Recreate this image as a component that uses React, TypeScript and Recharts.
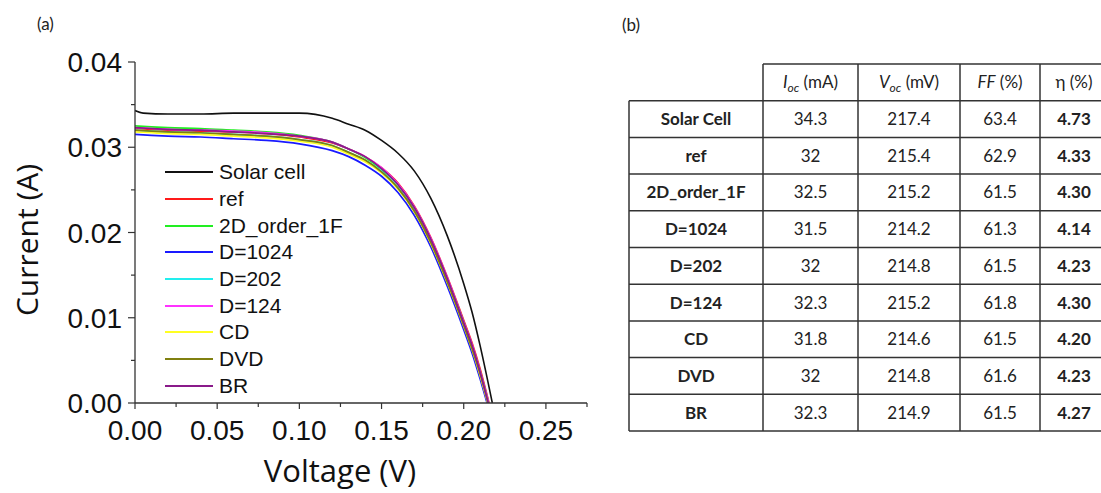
import React from 'react';
import { LineChart, Line, XAxis, YAxis, Legend } from 'recharts';

// ---------- chart data ----------
const seriesNames = ['Solar cell', 'ref', '2D_order_1F', 'D=1024', 'D=202', 'D=124', 'CD', 'DVD', 'BR'];
const seriesColors = ['#111111', '#ff1a1a', '#22ee22', '#1a1aff', '#22eeee', '#ff33ff', '#ffff22', '#808010', '#8a1a8a'];

const solarVoltage = [0, 0.005, 0.02, 0.04, 0.06, 0.08, 0.1, 0.12, 0.13, 0.14, 0.15, 0.16, 0.17, 0.18, 0.19, 0.2, 0.205, 0.21, 0.2174];
const solarCurrent = [0.0343, 0.034, 0.0339, 0.0339, 0.034, 0.034, 0.034, 0.0334, 0.0327, 0.032, 0.0308, 0.0293, 0.0272, 0.024, 0.0196, 0.014, 0.0107, 0.0067, 0];

const sampleVoltage = [0, 0.01, 0.02, 0.04, 0.06, 0.08, 0.1, 0.12, 0.13, 0.14, 0.15, 0.16, 0.17, 0.18, 0.19, 0.2, 0.205, 0.21];
const refCurrent = [0.0322, 0.0321, 0.032, 0.0319, 0.0318, 0.0316, 0.0312, 0.0305, 0.0298, 0.0289, 0.0276, 0.0258, 0.0231, 0.0194, 0.0148, 0.0097, 0.0071, 0.004];
const order1FCurrent = [0.0325, 0.0324, 0.0323, 0.0322, 0.032, 0.0318, 0.0314, 0.0306, 0.0298, 0.0288, 0.0274, 0.0256, 0.0229, 0.0192, 0.0146, 0.0095, 0.0068, 0.0037];
const d1024Current = [0.0315, 0.0314, 0.0313, 0.0312, 0.031, 0.0308, 0.0304, 0.0296, 0.0289, 0.0279, 0.0266, 0.0247, 0.022, 0.0183, 0.0137, 0.0086, 0.0059, 0.0028];
const d202Current = [0.032, 0.0319, 0.0318, 0.0317, 0.0315, 0.0313, 0.0309, 0.0302, 0.0294, 0.0285, 0.0272, 0.0253, 0.0226, 0.0189, 0.0143, 0.0092, 0.0065, 0.0034];
const d124Current = [0.0323, 0.0322, 0.0321, 0.032, 0.0319, 0.0317, 0.0313, 0.0306, 0.0298, 0.0289, 0.0276, 0.0257, 0.023, 0.0193, 0.0147, 0.0095, 0.0069, 0.0037];
const cdCurrent = [0.0318, 0.0317, 0.0316, 0.0315, 0.0313, 0.0311, 0.0307, 0.03, 0.0292, 0.0283, 0.027, 0.0251, 0.0224, 0.0187, 0.0141, 0.009, 0.0063, 0.0032];
const dvdCurrent = [0.032, 0.0319, 0.0318, 0.0317, 0.0315, 0.0313, 0.0309, 0.0302, 0.0294, 0.0285, 0.0271, 0.0252, 0.0225, 0.0188, 0.0142, 0.0091, 0.0064, 0.0034];
const brCurrent = [0.0323, 0.0322, 0.0321, 0.032, 0.0318, 0.0316, 0.0313, 0.0306, 0.0298, 0.0289, 0.0275, 0.0256, 0.0229, 0.0192, 0.0146, 0.0094, 0.0068, 0.0036];
const sampleCurrents = [refCurrent, order1FCurrent, d1024Current, d202Current, d124Current, cdCurrent, dvdCurrent, brCurrent];
const sampleVoc = [0.2154, 0.2152, 0.2142, 0.2148, 0.2152, 0.2146, 0.2148, 0.2149];

const xTicks = [0, 0.025, 0.05, 0.075, 0.1, 0.125, 0.15, 0.175, 0.2, 0.225, 0.25, 0.275];
const yTicks = [0, 0.005, 0.01, 0.015, 0.02, 0.025, 0.03, 0.035, 0.04];

// ---------- table data ----------
const tableRows = ['Solar Cell', 'ref', '2D_order_1F', 'D=1024', 'D=202', 'D=124', 'CD', 'DVD', 'BR'];
const iscValues = ['34.3', '32', '32.5', '31.5', '32', '32.3', '31.8', '32', '32.3'];
const vocValues = ['217.4', '215.4', '215.2', '214.2', '214.8', '215.2', '214.6', '214.8', '214.9'];
const ffValues = ['63.4', '62.9', '61.5', '61.3', '61.5', '61.8', '61.5', '61.6', '61.5'];
const etaValues = ['4.73', '4.33', '4.30', '4.14', '4.23', '4.30', '4.20', '4.23', '4.27'];

const seriesData = [
  solarVoltage.map((v, k) => ({ v, i: solarCurrent[k] })),
  ...sampleCurrents.map((cur, s) =>
    sampleVoltage.map((v, k) => ({ v, i: cur[k] })).concat([{ v: sampleVoc[s], i: 0 }])
  ),
];

const AXIS = '#333333';
const TICK_FONT = '"Liberation Sans", Arial, sans-serif';

const isMajor = (v: number, step: number) => Math.abs(Math.round(v / step) * step - v) < 1e-9;

const XTick = (props: any) => {
  const { x, y, payload } = props;
  const major = isMajor(payload.value, 0.05) && payload.value < 0.26;
  return (
    <g>
      <line x1={x} x2={x} y1={y} y2={y + (major ? 6 : 4)} stroke={AXIS} strokeWidth={1.2} />
      {major && (
        <text x={x} y={y + 37} textAnchor="middle" fontSize={28} fontFamily={TICK_FONT} fill="#111">
          {payload.value.toFixed(2)}
        </text>
      )}
    </g>
  );
};

const YTick = (props: any) => {
  const { x, y, payload } = props;
  const major = isMajor(payload.value, 0.01);
  return (
    <g>
      <line x1={x - (major ? 7 : 4)} x2={x} y1={y} y2={y} stroke={AXIS} strokeWidth={1.2} />
      {major && (
        <text x={x - 13} y={y + 10} textAnchor="end" fontSize={28} fontFamily={TICK_FONT} fill="#111">
          {payload.value.toFixed(2)}
        </text>
      )}
    </g>
  );
};

const LegendContent = (props: any) => {
  const payload = [...(props.payload || [])].sort(
    (a: any, b: any) => seriesNames.indexOf(a.value) - seriesNames.indexOf(b.value)
  );
  return (
    <div>
      {payload.map((p: any, idx: number) => (
        <div key={idx} style={{ display: 'flex', alignItems: 'center', height: 26.7 }}>
          <div style={{ width: 48, height: 2, background: p.color, marginRight: 6 }} />
          <span style={{ fontFamily: TICK_FONT, fontSize: 21, color: '#111', lineHeight: '26px' }}>{p.value}</span>
        </div>
      ))}
    </div>
  );
};

// table geometry
const colEdges = [629, 763, 858, 960, 1040, 1112];
const headerTop = 64;
const bodyTop = 100.7;
const rowH = 36.7;
const TABLE_FONT = 'Lato, "Open Sans", sans-serif';

const Table = () => {
  const bottom = bodyTop + rowH * tableRows.length;
  const centers = colEdges.slice(0, -1).map((c, k) => (c + colEdges[k + 1]) / 2);
  const cols = [tableRows, iscValues, vocValues, ffValues, etaValues];
  return (
    <g>
      <line x1={colEdges[1]} x2={1101} y1={headerTop} y2={headerTop} stroke={AXIS} strokeWidth={1.5} />
      {tableRows.map((_, r) => (
        <line key={'h' + r} x1={colEdges[0]} x2={1101} y1={bodyTop + rowH * r} y2={bodyTop + rowH * r} stroke={AXIS} strokeWidth={1.5} />
      ))}
      <line x1={colEdges[0]} x2={1101} y1={bottom} y2={bottom} stroke={AXIS} strokeWidth={1.5} />
      <line x1={colEdges[0]} x2={colEdges[0]} y1={bodyTop} y2={bottom} stroke={AXIS} strokeWidth={1.5} />
      {colEdges.slice(1, 5).map((c) => (
        <line key={'v' + c} x1={c} x2={c} y1={headerTop} y2={bottom} stroke={AXIS} strokeWidth={1.5} />
      ))}
      {/* header */}
      <text x={centers[1]} y={headerTop + 24} textAnchor="middle" fontSize={17} fontFamily={TABLE_FONT} fill="#222">
        <tspan fontStyle="italic">I</tspan>
        <tspan fontStyle="italic" fontSize={12} dy={4}>oc</tspan>
        <tspan dy={-4}> (mA)</tspan>
      </text>
      <text x={centers[2]} y={headerTop + 24} textAnchor="middle" fontSize={17} fontFamily={TABLE_FONT} fill="#222">
        <tspan fontStyle="italic">V</tspan>
        <tspan fontStyle="italic" fontSize={12} dy={4}>oc</tspan>
        <tspan dy={-4}> (mV)</tspan>
      </text>
      <text x={centers[3]} y={headerTop + 24} textAnchor="middle" fontSize={17} fontFamily={TABLE_FONT} fill="#222">
        <tspan fontStyle="italic">FF</tspan>
        <tspan> (%)</tspan>
      </text>
      <text x={centers[4] - 2} y={headerTop + 24} textAnchor="middle" fontSize={17} fontFamily={TABLE_FONT} fill="#222">
        η (%)
      </text>
      {cols.map((col, c) =>
        col.map((val, r) => (
          <text
            key={c + '-' + r}
            x={c === 4 ? centers[c] - 2 : centers[c]}
            y={bodyTop + rowH * r + rowH / 2 + 6}
            textAnchor="middle"
            fontSize={17}
            fontWeight={c === 0 || c === 4 ? 700 : 400}
            fontFamily={TABLE_FONT}
            fill="#222"
          >
            {val}
          </text>
        ))
      )}
    </g>
  );
};

export default function App() {
  return (
    <div style={{ position: 'fixed', left: 0, top: 0, width: 1101, height: 493, overflow: 'hidden', background: '#fff' }}>
      <div style={{ position: 'absolute', left: 0, top: 0 }}>
        <LineChart width={610} height={493} margin={{ top: 62, right: 23, bottom: 20, left: 0 }}>
          <XAxis
            type="number"
            dataKey="v"
            domain={[0, 0.275]}
            ticks={xTicks}
            interval={0}
            tickSize={0}
            tickMargin={0}
            tickLine={false}
            tick={<XTick />}
            height={70}
            stroke={AXIS}
            strokeWidth={1.3}
            allowDataOverflow
          />
          <XAxis xAxisId="top" orientation="top" type="number" domain={[0, 0.275]} height={0} tick={false} tickLine={false} stroke={AXIS} strokeWidth={1.3} />
          <YAxis
            type="number"
            domain={[0, 0.04]}
            ticks={yTicks}
            interval={0}
            tickSize={0}
            tickMargin={0}
            tickLine={false}
            tick={<YTick />}
            width={135}
            stroke={AXIS}
            strokeWidth={1.3}
            allowDataOverflow
          />
          <YAxis yAxisId="right" orientation="right" type="number" domain={[0, 0.04]} width={0} tick={false} tickLine={false} stroke={AXIS} strokeWidth={1.3} />
          {seriesData.map((d, s) => (
            <Line
              key={seriesNames[s]}
              data={d}
              dataKey="i"
              name={seriesNames[s]}
              type="monotone"
              stroke={seriesColors[s]}
              strokeWidth={s === 0 ? 1.6 : 1.7}
              dot={false}
              activeDot={false}
              isAnimationActive={false}
            />
          ))}
          <Legend
            layout="vertical"
            align="center"
            verticalAlign="middle"
            content={<LegendContent />}
            wrapperStyle={{ position: 'absolute', left: 165, top: 159, width: 200, height: 245 }}
          />
        </LineChart>
      </div>
      <svg width={1101} height={493} style={{ position: 'absolute', left: 0, top: 0, pointerEvents: 'none' }}>
        <text x={37} y={30} fontSize={17} fontFamily={TABLE_FONT} fill="#222">(a)</text>
        <text x={622} y={31} fontSize={17} fontFamily={TABLE_FONT} fill="#222">(b)</text>
        <text x={38} y={240} transform="rotate(-90, 38, 240)" textAnchor="middle" fontSize={30} fontFamily='"Open Sans", sans-serif' fill="#111">
          Current (A)
        </text>
        <text x={340} y={482} textAnchor="middle" fontSize={31} fontFamily='"Open Sans", sans-serif' fill="#111">
          Voltage (V)
        </text>
        <Table />
      </svg>
    </div>
  );
}
